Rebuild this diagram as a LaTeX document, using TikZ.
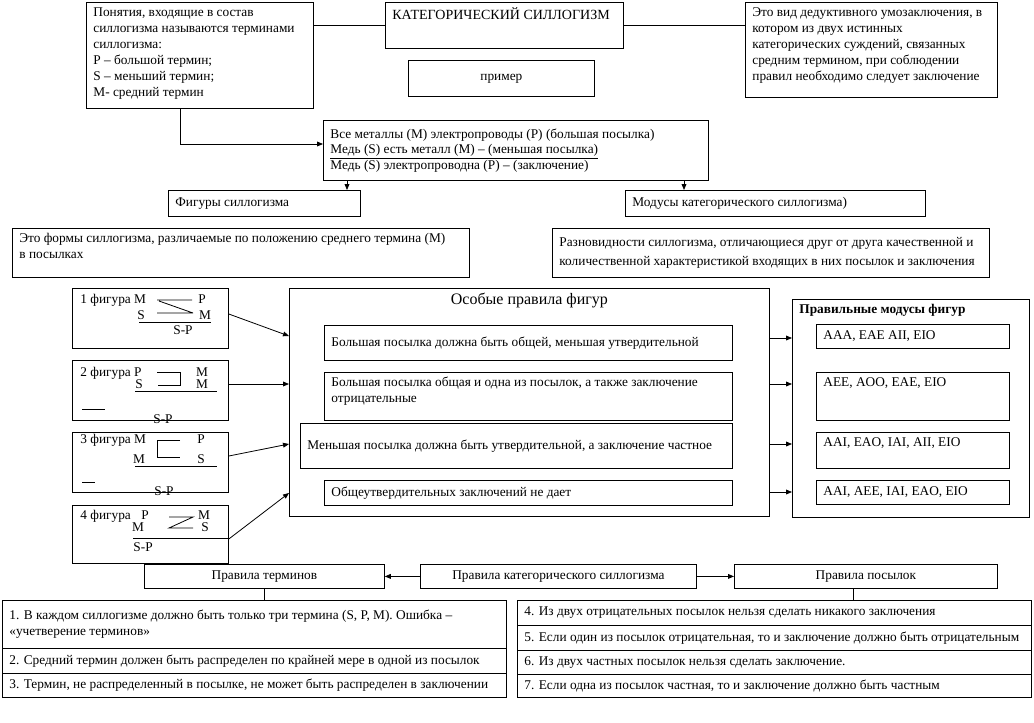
\documentclass[tikz,border=0pt]{standalone}
\usepackage{fontspec}
\setmainfont{Liberation Serif}
\usetikzlibrary{arrows.meta,calc}
\newlength{\pxu}
\setlength{\pxu}{0.75pt}
% box: name, left, top, width, height (all in px of the reference), text
\newcommand{\bx}[7][t]{%
  \node[box] (#2) at (#3,#4)
    {\parbox[c][\dimexpr#6\pxu-10\pxu\relax][#1]{\dimexpr#5\pxu-14\pxu\relax}{\raggedright#7}};}
\tikzset{
  box/.style={draw, anchor=north west, inner xsep=7\pxu, inner ysep=5\pxu,
    font=\fontsize{10}{12}\selectfont},
  sym/.style={inner sep=0pt, text height=7pt, text depth=2pt,
    font=\fontsize{10}{12}\selectfont},
}

\begin{document}
\begin{tikzpicture}[x=0.75pt, y=-0.75pt, >={Triangle[length=4.5pt,width=3.6pt]}, line width=.6pt]
\fill[white] (0,0) rectangle (1034,722);

% ================= head =================
\bx{concepts}{86}{2}{227}{106}{Понятия, входящие в состав\\ силлогизма называются терминами\\ силлогизма:\\ P – большой термин;\\ S – меньший термин;\\ M- средний термин}
\bx{title}{385}{2}{238}{46}{\fontsize{10.5}{13}\selectfont КАТЕГОРИЧЕСКИЙ СИЛЛОГИЗМ}
\bx{definition}{745}{2}{252}{95}{Это вид дедуктивного умозаключения, в\\ котором из двух истинных\\ категорических суждений, связанных\\ средним термином, при соблюдении\\ правил необходимо следует заключение}
\bx[c]{sample}{408}{60}{186}{36}{\centering пример}
\bx[c]{example}{323}{120}{385}{60}{\fontsize{10}{11.8}\selectfont Все металлы (M) электропроводы (P) (большая посылка)\\ \underline{Медь (S) есть металл (M) – (меньшая посылка)}\\ Медь (S) электропроводна (P) – (заключение)}

\draw (title.west -| concepts.east) -- (title.west);
\draw (title.east) -- (title.east -| definition.west);
\draw[->] (concepts.south -| 180,0) |- (example.west |- 0,144);

% ================= figures and moods =================
\bx[c]{figures}{168}{190}{192}{26}{Фигуры силлогизма}
\bx[c]{moods}{625}{190}{300}{26}{Модусы категорического силлогизма)}
\bx{figdef}{12}{228}{457}{49}{Это формы силлогизма, различаемые по положению среднего термина (M)\\ в посылках}
\bx[c]{mooddef}{552}{228}{437}{49}{\fontsize{10}{14}\selectfont Разновидности силлогизма, отличающиеся друг от друга качественной и\\ количественной характеристикой входящих в них посылок и заключения}

\draw[->] (example.south -| 347,0) -- (figures.north -| 347,0);
\draw[->] (example.south -| 684,0) -- (moods.north -| 684,0);

% ================= the four figures =================
\bx{fig1}{72}{288}{156}{60}{\mbox{}}
\bx{fig2}{72}{360}{156}{60}{\mbox{}}
\bx{fig3}{72}{432}{156}{60}{\mbox{}}
\bx{fig4}{72}{505}{156}{58}{\mbox{}}

% 1st figure
\node[sym, anchor=west] (f1lab) at (80,300) {1 фигура M};
\node[sym] (f1p) at (202,300) {P};
\node[sym] (f1s) at (141,316) {S};
\node[sym] (f1m) at (205,316) {M};
\node[sym] (f1c) at (183,331) {S-P};
\draw (157,300) -- (192,300) (159,301) -- (193,313) (157,313) -- (193,313);
\draw (139,322) -- (211,322);

% 2nd figure
\node[sym, anchor=west] (f2lab) at (80,373) {2 фигура P};
\node[sym] (f2p) at (202,373) {M};
\node[sym] (f2s) at (139,385) {S};
\node[sym] (f2m) at (202,385) {M};
\node[sym] (f2c) at (163,420) {S-P};
\draw (157,372) -- (180,372) -- (180,385) -- (158,385);
\draw (135,391) -- (217,391);
\draw (82,409) -- (105,409);

% 3rd figure
\node[sym, anchor=west] (f3lab) at (80,440) {3 фигура M};
\node[sym] (f3p) at (201,440) {P};
\node[sym] (f3s) at (139,460) {M};
\node[sym] (f3m) at (201,460) {S};
\node[sym] (f3c) at (164,492) {S-P};
\draw (180,440) -- (157,440) -- (157,457) -- (180,457);
\draw (135,466) -- (217,466);
\draw (82,482) -- (95,482);

% 4th figure
\node[sym, anchor=west] (f4lab) at (80,516) {4 фигура};
\node[sym] (f4p) at (145,516) {P};
\node[sym] (f4m) at (204,516) {M};
\node[sym] (f4s) at (138,528) {M};
\node[sym] (f4n) at (205,528) {S};
\node[sym, anchor=west] (f4c) at (133,548) {S-P};
\draw (169,517) -- (193,517) -- (169,528) -- (193,528);
\draw (133,538) -- (228,538);

% ================= special rules =================
\bx{special}{289}{288}{480}{228}{\centering\fontsize{12}{14}\selectfont Особые правила фигур}
\bx[c]{rule1}{324}{325}{408}{35}{Большая посылка должна быть общей, меньшая утвердительной}
\bx{rule2}{324}{372}{408}{48}{Большая посылка общая и одна из посылок, а также заключение\\ отрицательные}
\bx[c]{rule3}{300}{423}{432}{45}{Меньшая посылка должна быть утвердительной, а заключение частное}
\bx[c]{rule4}{324}{480}{408}{25}{Общеутвердительных заключений не дает}

\draw[->] (fig1.east |- 0,314) -- (special.west |- 0,336);
\draw[->] (fig2.east |- 0,384) -- (special.west |- 0,384);
\draw[->] (fig3.east |- 0,456) -- (special.west |- 0,444);
\draw[->] (fig4.east |- 0,539) -- (special.west |- 0,493);

% ================= correct moods =================
\bx{correct}{792}{299}{237}{218}{\textbf{Правильные модусы фигур}}
\bx[c]{mode1}{816}{324}{193}{24}{AAA, EAE AII, EIO}
\bx{mode2}{816}{372}{193}{48}{AEE, AOO, EAE, EIO}
\bx{mode3}{816}{432}{193}{36}{AAI, EAO, IAI, AII, EIO}
\bx[c]{mode4}{816}{480}{193}{24}{AAI, AEE, IAI, EAO, EIO}

\foreach \yy in {338,384,444,492}
  \draw[->] (special.east |- 0,\yy) -- (correct.west |- 0,\yy);

% ================= general rules =================
\bx[c]{termrules}{144}{564}{240}{24}{\centering Правила терминов}
\bx[c]{catrules}{420}{564}{276}{24}{\centering Правила категорического силлогизма}
\bx[c]{premrules}{734}{564}{263}{24}{\centering Правила посылок}

\draw[->] (catrules.west) -- (termrules.east);
\draw[->] (catrules.east) -- (premrules.west);

\bx[c]{t1}{2}{600}{504}{48}{1. В каждом силлогизме должно быть только три термина (S, P, M). Ошибка –\\ «учетверение терминов»}
\bx[c]{t2}{2}{648}{504}{25}{2. Средний термин должен быть распределен по крайней мере в одной из посылок}
\bx[c]{t3}{2}{673}{504}{24}{3. Термин, не распределенный в посылке, не может быть распределен в заключении}

\bx[c]{r4}{517}{600}{514}{25}{4. Из двух отрицательных посылок нельзя сделать никакого заключения}
\bx[c]{r5}{517}{625}{514}{25}{5. Если один из посылок отрицательная, то и заключение должно быть отрицательным}
\bx[c]{r6}{517}{650}{514}{24}{6. Из двух частных посылок нельзя сделать заключение.}
\bx[c]{r7}{517}{674}{514}{23}{7. Если одна из посылок частная, то и заключение должно быть частным}

\draw (termrules.south) -- (termrules.south |- t1.north);
\draw (premrules.south -| 853,0) -- (r4.north -| 853,0);

\end{tikzpicture}
\end{document}
